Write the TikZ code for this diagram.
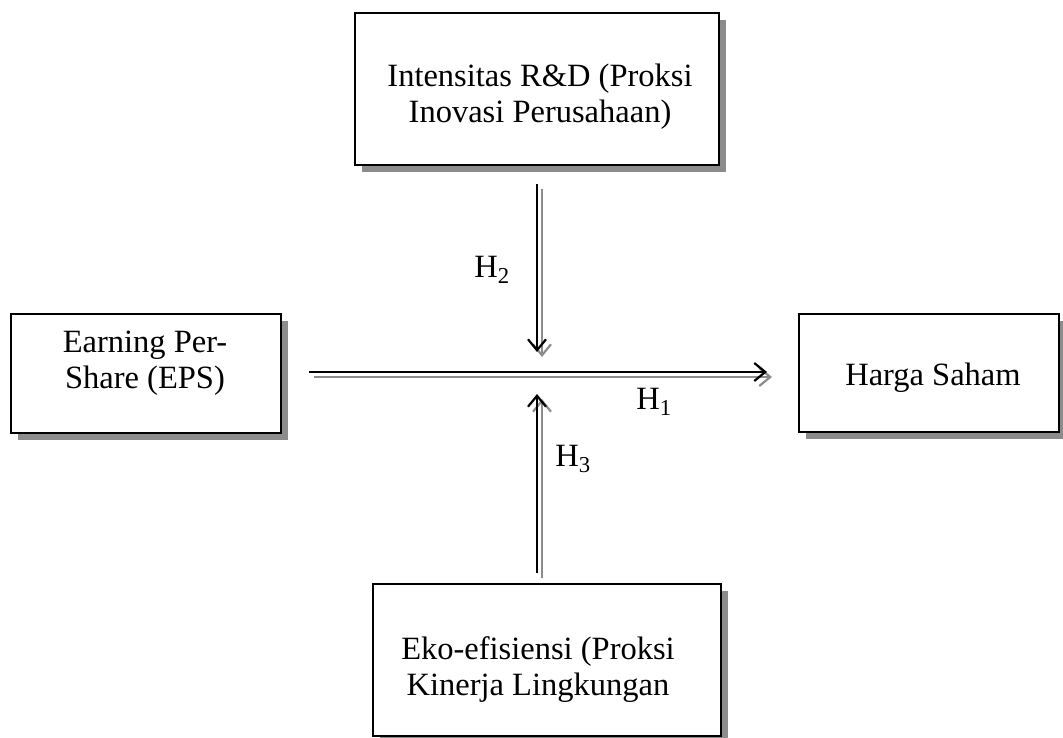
\documentclass[tikz,border=0pt]{standalone}
\usepackage{fontspec}
\setmainfont{Liberation Serif}
\usetikzlibrary{arrows.meta,shadows}
\begin{document}
\begin{tikzpicture}[x=1pt,y=-1pt,
  box/.style={draw, line width=2pt, fill=white, inner sep=0pt, anchor=north west,
    drop shadow={shadow xshift=7pt, shadow yshift=-7pt, fill=black!45, opacity=1}},
  txt/.style={font=\fontsize{32.5}{36}\selectfont, align=center, inner sep=0pt},
  lab/.style={font=\fontsize{32.5}{36}\selectfont, inner sep=0pt},
  conn/.style={line width=2.2pt, -{Straight Barb[length=11pt,width=18pt,line width=2.2pt]}},
  connshadow/.style={conn, black!45, transform canvas={xshift=5pt,yshift=-5pt}}]
\useasboundingbox (0,0) rectangle (1063,738);

\node[box, minimum width=364pt, minimum height=152pt] (top) at (354,12) {};
\node[box, minimum width=270pt, minimum height=119pt] (eps) at (10,313) {};
\node[box, minimum width=260pt, minimum height=118pt] (harga) at (798,313) {};
\node[box, minimum width=348pt, minimum height=152pt] (bot) at (372,583) {};

\node[txt] (toptxt) at (540,97) {Intensitas R\&D (Proksi\\Inovasi Perusahaan)};
\node[txt] (epstxt) at (145,363) {Earning Per-\\Share (EPS)};
\node[txt] (hargatxt) at (933,378) {Harga Saham};
\node[txt] (bottxt) at (538,670) {Eko-efisiensi (Proksi\\Kinerja Lingkungan};

\coordinate (mid) at (537,372);

\draw[connshadow] ([xshift=27pt]eps.east |- mid) -- ([xshift=-31pt]harga.west |- mid);
\draw[conn] ([xshift=27pt]eps.east |- mid) -- ([xshift=-31pt]harga.west |- mid);

\draw[connshadow] ([yshift=-18pt]top.south -| mid) -- ([yshift=20pt]mid);
\draw[conn] ([yshift=-18pt]top.south -| mid) -- ([yshift=20pt]mid);

\draw[connshadow] ([yshift=10pt]bot.north -| mid) -- ([yshift=-22pt]mid);
\draw[conn] ([yshift=10pt]bot.north -| mid) -- ([yshift=-22pt]mid);

\node[lab] (h2) at (492,270) {H\textsubscript{2}};
\node[lab] (h1) at (654,402) {H\textsubscript{1}};
\node[lab] (h3) at (573,459) {H\textsubscript{3}};
\end{tikzpicture}
\end{document}
